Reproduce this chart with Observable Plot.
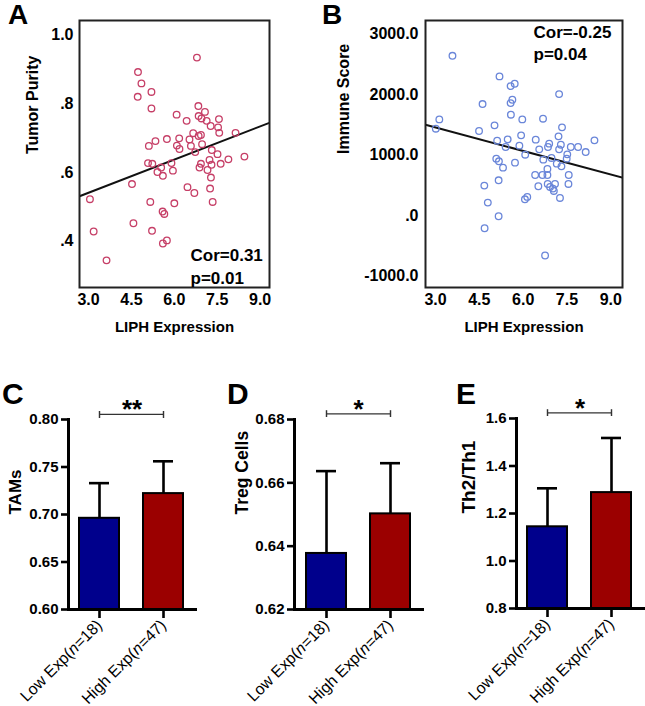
<!DOCTYPE html>
<html><head><meta charset="utf-8">
<script src="https://cdn.jsdelivr.net/npm/d3@7"></script>
<script src="https://cdn.jsdelivr.net/npm/@observablehq/plot@0.6"></script>
<style>
body{margin:0;background:#fff;}
#root{position:relative;width:645px;height:706px;font-family:"Liberation Sans",Arial,sans-serif;overflow:hidden;}
.panel{position:absolute;}
.letter{position:absolute;font-weight:bold;line-height:1;color:#000;font-family:"Liberation Sans",Arial,sans-serif;}
</style></head><body><div id="root"></div>
<script>
// ---- Panel A: LIPH expression vs Tumor Purity ----
const liphA = [6.79,4.73,4.85,5.20,4.72,5.20,6.84,7.07,6.08,6.85,6.95,7.13,7.56,6.43,7.27,7.53,7.57,8.14,6.66,6.85,6.93,5.74,6.17,6.53,5.34,5.11,6.09,6.18,6.58,6.97,7.31,6.73,7.51,8.45,7.89,7.23,5.08,5.23,5.90,6.93,7.62,7.30,6.88,5.54,7.16,5.95,5.41,5.60,7.28,4.52,6.46,7.25,6.70,3.05,5.16,6.00,7.34,5.59,5.65,4.57,3.18,5.22,5.74,5.60,3.63];
const purity = [0.934,0.892,0.859,0.834,0.820,0.786,0.793,0.776,0.768,0.764,0.757,0.750,0.755,0.750,0.735,0.731,0.715,0.715,0.714,0.706,0.709,0.697,0.699,0.696,0.691,0.677,0.678,0.668,0.677,0.682,0.665,0.659,0.653,0.646,0.638,0.636,0.627,0.625,0.627,0.625,0.625,0.622,0.614,0.614,0.607,0.605,0.601,0.590,0.585,0.566,0.557,0.553,0.540,0.522,0.514,0.510,0.514,0.486,0.479,0.452,0.428,0.430,0.402,0.393,0.344];
const fitA = [0.444, 0.0322]; // intercept, slope
const statA = ["Cor=0.31", "p=0.01"];
const purityTicks = [0.4, 0.6, 0.8, 1.0];

// ---- Panel B: LIPH expression vs Immune Score ----
const liphB = [3.58,5.19,5.71,5.57,5.63,5.57,4.61,7.23,5.58,3.13,3.01,5.97,6.68,5.02,4.49,7.33,5.93,7.21,5.11,5.47,6.43,8.44,6.89,7.29,5.40,5.87,6.85,6.55,7.23,7.63,7.88,8.14,7.51,6.07,5.08,5.17,6.69,6.97,7.49,5.72,7.15,7.31,5.31,6.83,6.41,6.66,6.83,7.56,5.16,4.67,6.52,6.84,7.09,6.92,7.55,7.05,6.14,6.06,7.26,4.79,5.16,4.68,6.75,7.02];
const immune = [2637,2297,2176,2137,1912,1857,1841,2005,1665,1588,1434,1588,1599,1489,1396,1456,1324,1308,1236,1258,1253,1242,1187,1170,1132,1154,1132,1093,1093,1132,1132,1049,1011,1005,940,896,923,951,940,874,857,813,791,769,670,670,670,670,582,495,484,522,522,473,522,407,308,269,291,214,-11,-209,-659,445];
const fitB = [1845, -129.7];
const statB = ["Cor=-0.25", "p=0.04"];
const immuneTicks = [-1000, 0, 1000, 2000, 3000];

const liphTicks = [3.0, 4.5, 6.0, 7.5, 9.0];

// ---- Panels C-E: bar charts ----
const groups = ["Low Exp(n=18)", "High Exp(n=47)"];
const tamsMean = [0.696, 0.722], tamsUpper = [0.733, 0.756];
const tregMean = [0.6377, 0.6502], tregUpper = [0.6637, 0.6662];
const thMean = [1.144, 1.288], thUpper = [1.306, 1.518];
const tamsTicks = [0.60, 0.65, 0.70, 0.75, 0.80];
const tregTicks = [0.62, 0.64, 0.66, 0.68];
const thTicks = [0.8, 1.0, 1.2, 1.4, 1.6];
const sigStars = ["**", "*", "*"];

const FONT = "Liberation Sans, Arial, sans-serif";
const root = document.getElementById("root");
function place(node, left, top) {
  const d = document.createElement("div");
  d.className = "panel"; d.style.left = left + "px"; d.style.top = top + "px";
  d.appendChild(node); root.appendChild(d);
}
function letter(t, left, top, size) {
  const d = document.createElement("div");
  d.className = "letter"; d.textContent = t;
  d.style.left = left + "px"; d.style.top = top + "px"; d.style.fontSize = size + "px";
  root.appendChild(d);
}
function fitLine(fit, dom) { return dom.map(x => ({x, y: fit[0] + fit[1] * x})); }

function scatter(o) {
  const data = o.xs.map((x, i) => ({x, y: o.ys[i]}));
  return Plot.plot({
    width: o.width, height: 340,
    marginLeft: o.ml, marginRight: o.mr, marginTop: 20, marginBottom: 53,
    style: {fontFamily: FONT, fontSize: "16px", color: "#000", background: "transparent", overflow: "visible"},
    x: {domain: o.xDomain},
    y: {domain: o.yDomain},
    marks: [
      Plot.line(fitLine(o.fit, o.xDomain), {x: "x", y: "y", stroke: "#111", strokeWidth: 2, clip: true}),
      Plot.dot(data, {x: "x", y: "y", r: 3.3, stroke: o.color, strokeWidth: 1.3, fill: "none"}),
      Plot.frame({stroke: "#222", strokeWidth: 2}),
      Plot.axisX({ticks: liphTicks, tickFormat: d => d.toFixed(1), tickSize: 0, tickPadding: 6, fontWeight: "bold", fontSize: 16, label: null}),
      Plot.axisY({ticks: o.yTicks, tickFormat: o.yFormat, tickSize: 0, tickPadding: o.yPad, fontWeight: "bold", fontSize: 16, label: null}),
      Plot.text(["LIPH Expression"], {text: d => d, frameAnchor: "bottom", dy: 40, lineAnchor: "middle", fontSize: 15, fontWeight: "bold"}),
      Plot.text([o.ylabel], {text: d => d, frameAnchor: "left", dx: o.ylabelDx, rotate: -90, fontSize: 16, fontWeight: "bold"}),
      Plot.text([o.stat.join("\n")], {text: d => d, frameAnchor: o.statAnchor, textAnchor: "start", lineAnchor: o.statLine, dx: o.statDx, dy: o.statDy, fontWeight: "bold", fontSize: 17, lineHeight: 1.3})
    ]
  });
}

place(scatter({
  width: 320, ml: 79, mr: 51, xs: liphA, ys: purity, fit: fitA,
  xDomain: [2.685, 9.327], yDomain: [0.265, 1.042],
  yTicks: purityTicks, yFormat: d => d === 1 ? "1.0" : d.toFixed(1).replace(/^0/, ""), yPad: 6,
  color: "#c63f67", ylabel: "Tumor Purity", ylabelDx: -47,
  stat: statA, statAnchor: "bottom-right", statLine: "bottom", statDx: -79, statDy: -4
}), 0, 0);

place(scatter({
  width: 325, ml: 105, mr: 23, xs: liphB, ys: immune, fit: fitB,
  xDomain: [2.657, 9.4], yDomain: [-1187, 3220],
  yTicks: immuneTicks, yFormat: d => d === 0 ? ".0" : d.toFixed(1), yPad: 7,
  color: "#6a86d9", ylabel: "Immune Score", ylabelDx: -82,
  stat: statB, statAnchor: "top-right", statLine: "top", statDx: -89, statDy: 2
}), 320, 0);

function bars(o) {
  const data = groups.map((g, i) => ({g, v: o.mean[i], e: o.upper[i], base: o.domain[0]}));
  const sig = [{a: groups[0], b: groups[1], y: o.sigY}];
  const svg = Plot.plot({
    width: 215, height: 326,
    marginLeft: o.ml, marginRight: o.mr, marginTop: o.mt, marginBottom: 326 - o.mt - 190,
    style: {fontFamily: FONT, fontSize: "15px", color: "#000", background: "transparent", overflow: "visible"},
    x: {domain: groups, paddingInner: 0.37, paddingOuter: 0.17},
    y: {domain: o.domain},
    color: {domain: groups, range: ["#00008c", "#9b0000"]},
    marks: [
      Plot.ruleX(data, {x: "g", y1: "v", y2: "e", stroke: "#000", strokeWidth: 2.6}),
      Plot.tickY(data, {x: "g", y: "e", stroke: "#000", strokeWidth: 2.6, insetLeft: 10, insetRight: 10}),
      Plot.barY(data, {x: "g", y1: "base", y2: "v", fill: "g", stroke: "#000", strokeWidth: 2}),
      Plot.frame({anchor: "left", stroke: "#000", strokeWidth: 3}),
      Plot.frame({anchor: "bottom", stroke: "#000", strokeWidth: 3}),
      Plot.axisY({ticks: o.ticks, tickFormat: o.fmt, tickSize: 7, strokeWidth: 2.6, tickPadding: 3, fontWeight: "bold", fontSize: 15, label: null}),
      Plot.axisX({tickSize: 9, strokeWidth: 2.6, tickRotate: -45, tickPadding: 4, fontSize: 16, label: null}),
      Plot.link(sig, {x1: "a", x2: "b", y1: "y", y2: "y", markerStart: "tick", markerEnd: "tick", stroke: "#333", strokeWidth: 1.2}),
      Plot.text(sig, {y: "y", text: () => o.stars, frameAnchor: "middle", lineAnchor: "bottom", dy: 4, fontSize: 26, fontWeight: "bold"}),
      Plot.text([o.label], {text: d => d, frameAnchor: "left", dx: o.labelDx, rotate: -90, fontSize: o.labelSize, fontWeight: "bold"})
    ]
  });
  d3.select(svg).selectAll('g[aria-label="x-axis tick label"] text').each(function() {
    const t = this.textContent; const m = t.match(/^(.*\()n(=.*)$/);
    if (m) { const s = d3.select(this); s.text(null);
      s.append("tspan").text(m[1]); s.append("tspan").attr("font-style", "italic").text("n"); s.append("tspan").text(m[2]); }
  });
  return svg;
}

place(bars({mean: tamsMean, upper: tamsUpper, domain: [0.60, 0.80], ticks: tamsTicks, fmt: d => d.toFixed(2),
  ml: 68, mr: 20, mt: 39, sigY: 0.8053, stars: sigStars[0], label: "TAMs", labelDx: -53, labelSize: 17}), 0, 380);
place(bars({mean: tregMean, upper: tregUpper, domain: [0.62, 0.68], ticks: tregTicks, fmt: d => d.toFixed(2),
  ml: 79, mr: 8, mt: 39, sigY: 0.6818, stars: sigStars[1], label: "Treg Cells", labelDx: -52, labelSize: 17.5}), 215, 380);
place(bars({mean: thMean, upper: thUpper, domain: [0.8, 1.6], ticks: thTicks, fmt: d => d.toFixed(1),
  ml: 86, mr: 2, mt: 38, sigY: 1.624, stars: sigStars[2], label: "Th2/Th1", labelDx: -48, labelSize: 19}), 430, 380);

letter("A", 8, 1, 28);
letter("B", 322, 1, 28);
letter("C", 2, 379, 30);
letter("D", 227, 379, 30);
letter("E", 456, 379, 30);
</script></body></html>
